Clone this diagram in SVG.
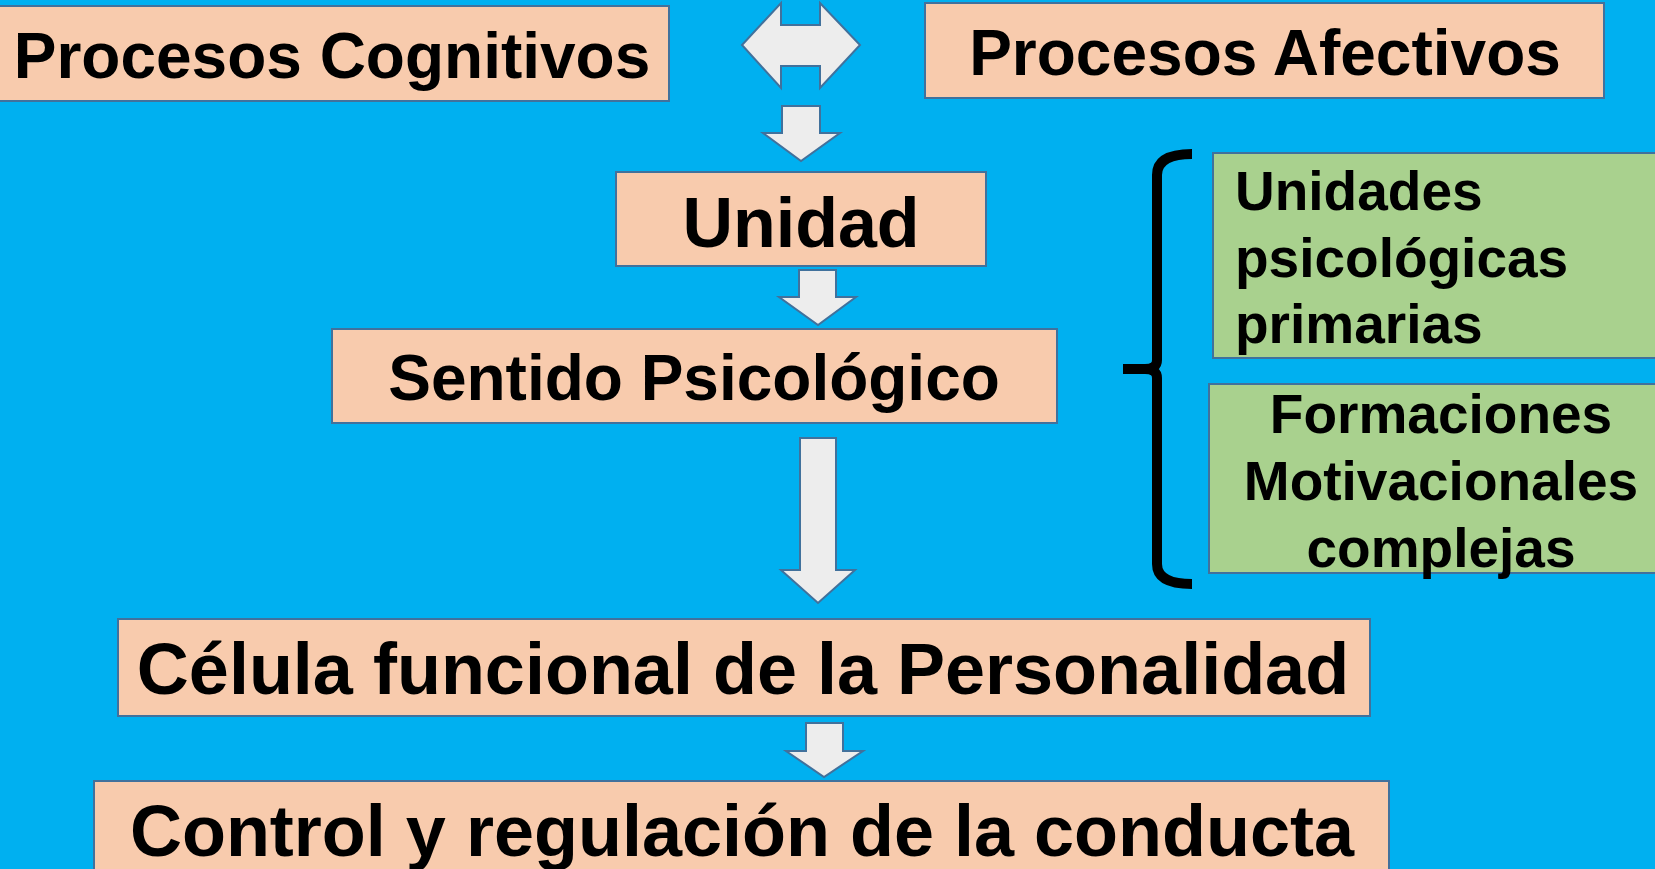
<svg xmlns="http://www.w3.org/2000/svg" width="1655" height="869" viewBox="0 0 1655 869">
<style>
.box{fill:#F8CBAD;stroke:#41719C;stroke-width:2}
.gbox{fill:#A9D18E;stroke:#41719C;stroke-width:2}
.arr{fill:#EDEDED;stroke:#41719C;stroke-width:2;stroke-linejoin:miter}
.t{font-family:"Liberation Sans",Arial,sans-serif;font-weight:bold;fill:#000}
.brace{fill:none;stroke:#000;stroke-width:10;stroke-linejoin:round}
</style>
<rect x="0" y="0" width="1655" height="869" fill="#00B0F0"/>
<g id="connectors">
<path class="arr" d="M742,45 L781,3 L781,25 L820,25 L820,3 L860,45 L820,88 L820,66 L781,66 L781,88 Z"/>
<path class="arr" d="M782,106 L820,106 L820,133 L840,133 L801,161 L763,133 L782,133 Z"/>
<path class="arr" d="M799,270 L836,270 L836,297 L856,297 L818,325 L779,297 L799,297 Z"/>
<path class="arr" d="M800,438 L836,438 L836,570 L855,570 L818,603 L781,570 L800,570 Z"/>
<path class="arr" d="M806,723 L843,723 L843,751 L863,751 L824,777 L786,751 L806,751 Z"/>
<path class="brace" d="M1192,154 Q1157,154 1157,175 L1157,360 Q1157,369 1145,369 L1123,369 M1145,369 Q1157,369 1157,378 L1157,564 Q1157,584 1192,584"/>
</g>
<g id="cognitivos">
<rect class="box" x="-2" y="6" width="671" height="95"/>
<text class="t" x="332" y="78" font-size="64" text-anchor="middle">Procesos Cognitivos</text>
</g>
<g id="afectivos">
<rect class="box" x="925" y="3" width="679" height="95"/>
<text class="t" x="1265" y="75" font-size="64" text-anchor="middle">Procesos Afectivos</text>
</g>
<g id="unidad">
<rect class="box" x="616" y="172" width="370" height="94"/>
<text class="t" x="801" y="247" font-size="70" text-anchor="middle">Unidad</text>
</g>
<g id="sentido">
<rect class="box" x="332" y="329" width="725" height="94"/>
<text class="t" x="694" y="400" font-size="64" text-anchor="middle">Sentido Psicológico</text>
</g>
<g id="celula">
<rect class="box" x="118" y="619" width="1252" height="97"/>
<text class="t" x="743" y="694" font-size="72" text-anchor="middle">Célula funcional de la Personalidad</text>
</g>
<g id="control">
<rect class="box" x="94" y="781" width="1295" height="100"/>
<text class="t" x="742" y="856" font-size="72" text-anchor="middle">Control y regulación de la conducta</text>
</g>
<g id="unidades">
<rect class="gbox" x="1213" y="153" width="460" height="205"/>
<text class="t" font-size="55"><tspan x="1235" y="210">Unidades</tspan><tspan x="1235" y="277">psicológicas</tspan><tspan x="1235" y="343">primarias</tspan></text>
</g>
<g id="formaciones">
<rect class="gbox" x="1209" y="384" width="464" height="189"/>
<text class="t" font-size="55" text-anchor="middle"><tspan x="1441" y="433">Formaciones</tspan><tspan x="1441" y="500">Motivacionales</tspan><tspan x="1441" y="567">complejas</tspan></text>
</g>
</svg>
